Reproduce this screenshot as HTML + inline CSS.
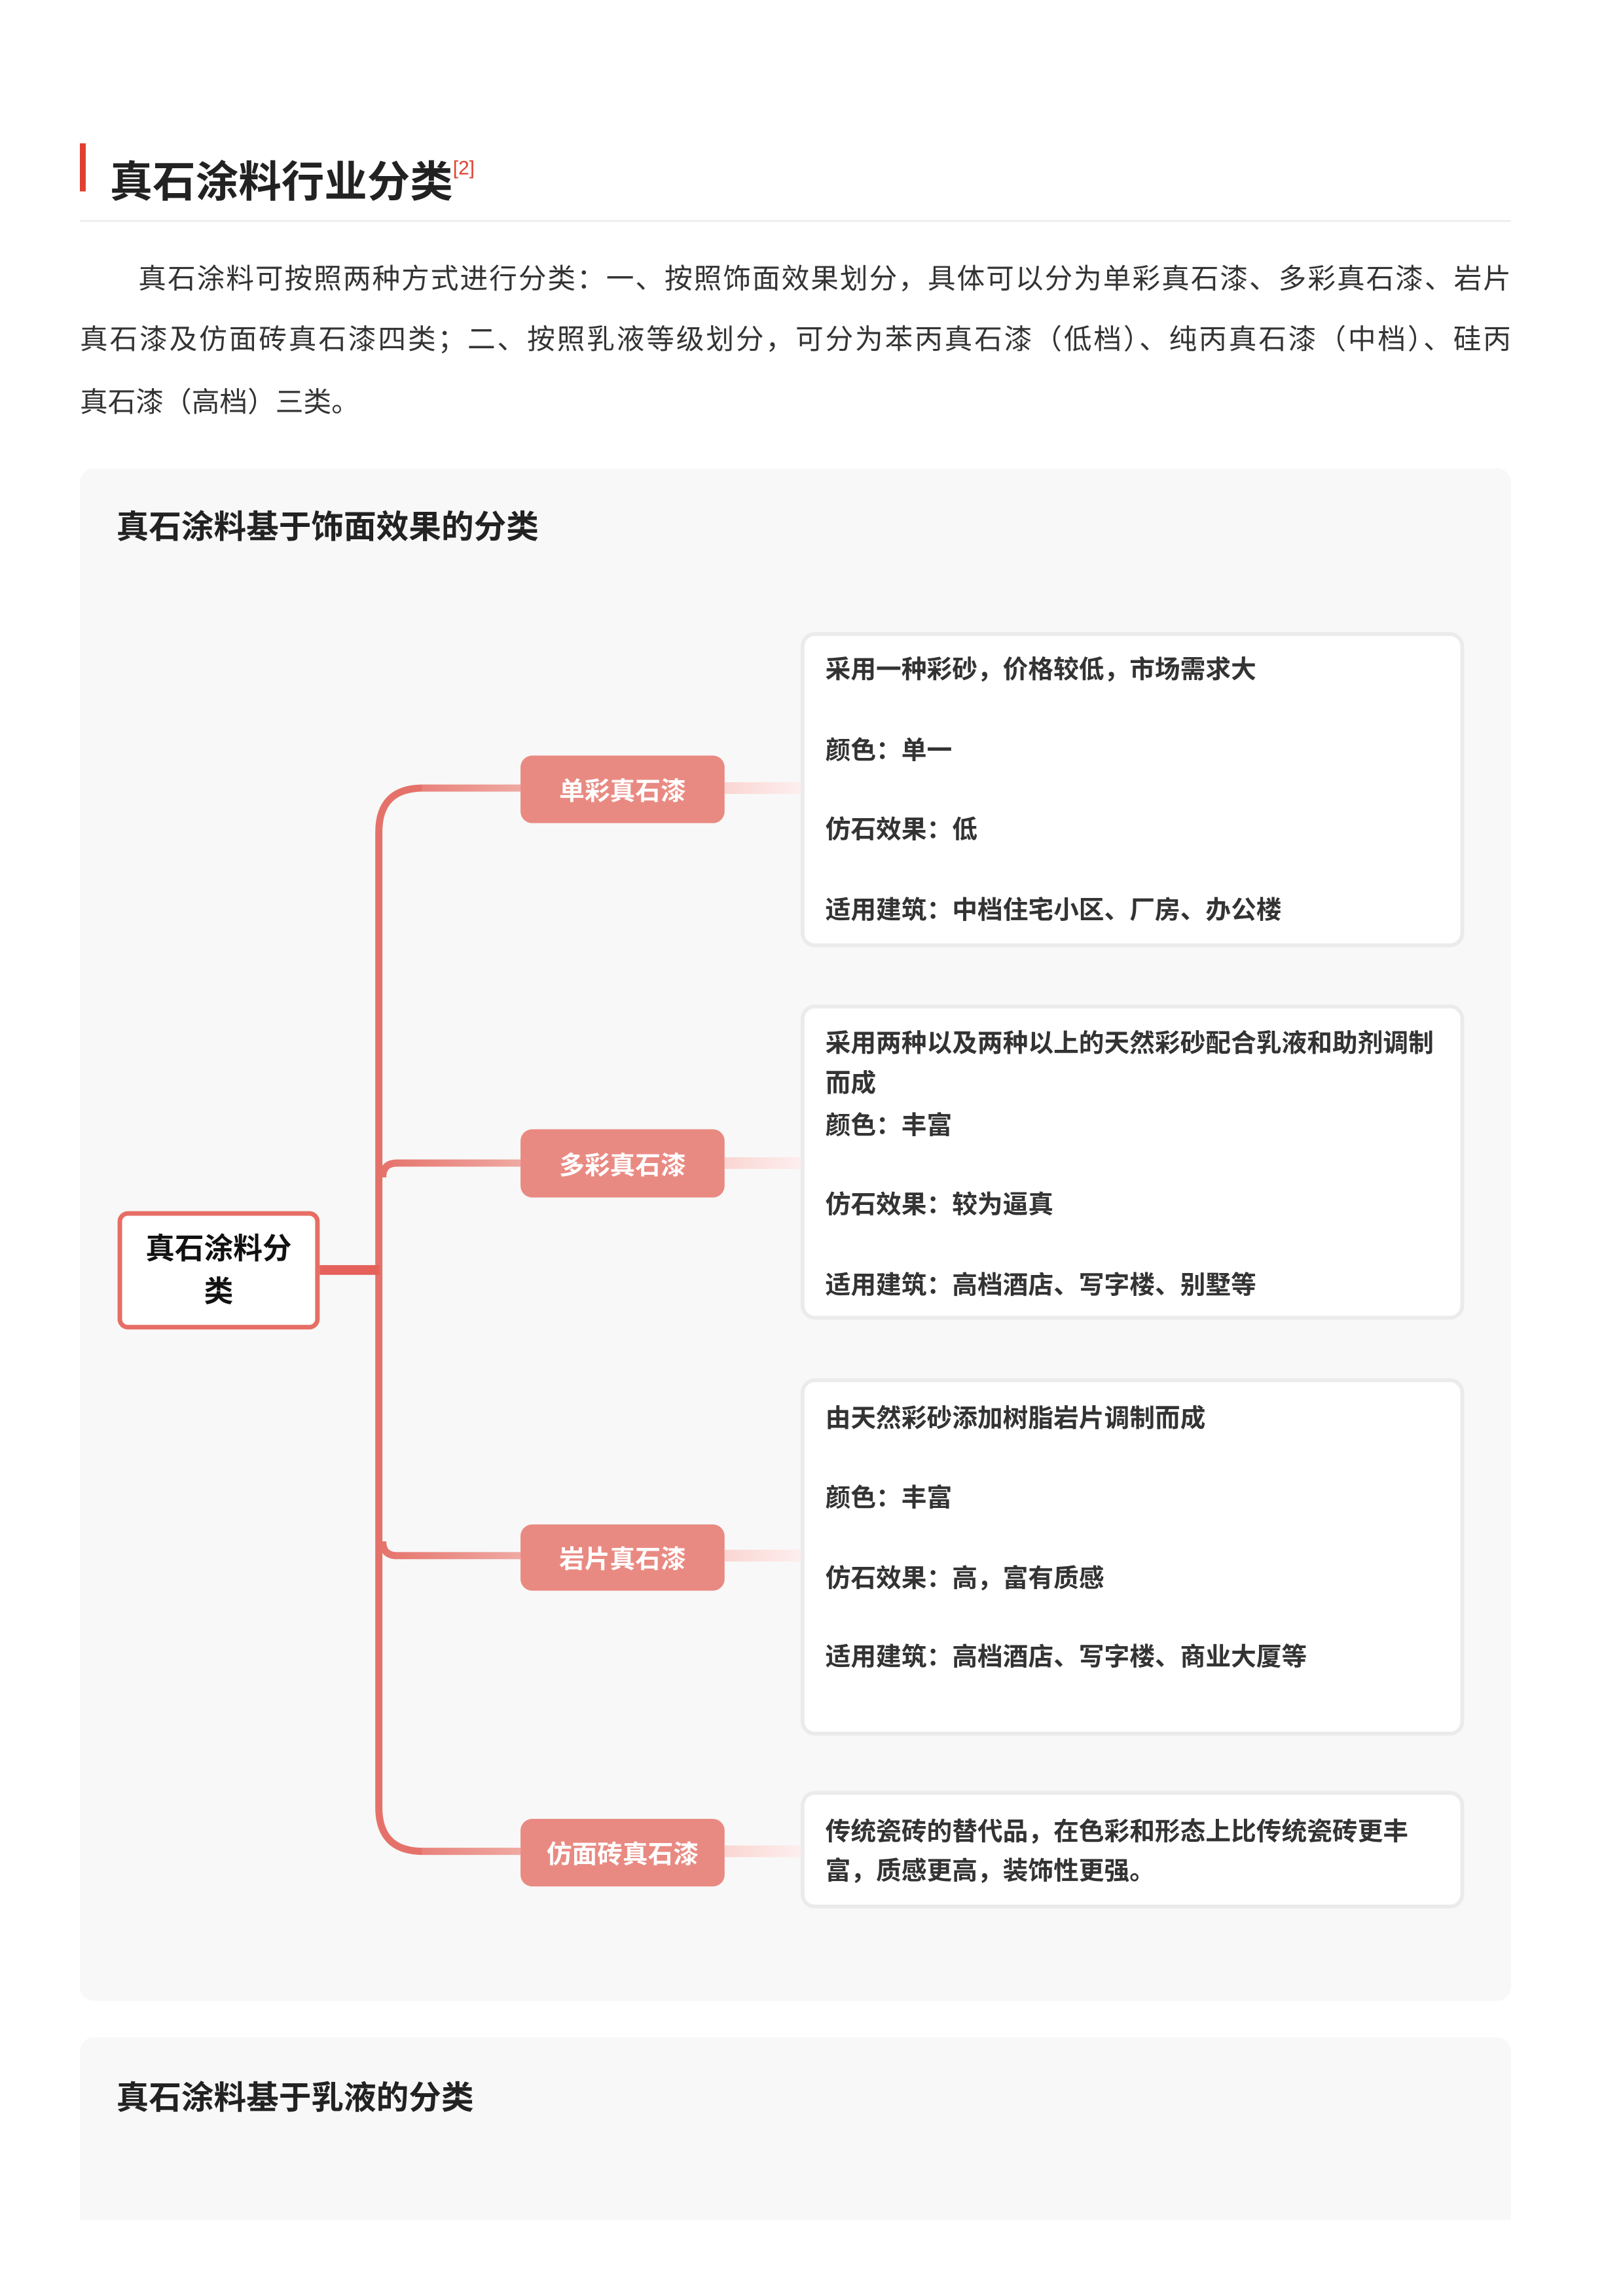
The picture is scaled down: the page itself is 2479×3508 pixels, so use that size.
<!DOCTYPE html>
<html><head><meta charset="utf-8"><style>
*{margin:0;padding:0;box-sizing:border-box}
body{width:2479px;height:3508px;background:#fff;position:relative;overflow:hidden;font-family:"Liberation Sans","Noto Sans CJK SC",sans-serif}
#w{position:absolute;left:0;top:0;width:2479px;height:3508px;transform:scale(0.9927,0.993);transform-origin:122px 219px}
.a{position:absolute;white-space:nowrap}
.p{position:absolute;left:122px;width:2202px;font-size:43px;color:#333;line-height:60px;white-space:nowrap}
.j{text-align:justify;text-align-last:justify}
.panel{position:absolute;left:122px;width:2202px;background:#f8f8f8}
.pt{font-size:50px;font-weight:bold;color:#222;line-height:60px}
.node{position:absolute;left:800px;width:314px;background:#e98a82;border-radius:18px;color:#fff;font-weight:bold;font-size:39px;display:flex;align-items:center;justify-content:center}
.box{position:absolute;left:1231px;width:1021px;background:#fff;border:6px solid #ebebeb;border-radius:22px}
.t{position:absolute;left:1269px;font-size:39px;font-weight:bold;color:#333;line-height:50px;white-space:nowrap}
.fc{position:absolute;left:1114px;width:117px;height:18px;background:linear-gradient(90deg,#fad6d2,#fdeeed)}
</style></head><body><div id="w">
<div class="a" style="left:122px;top:219px;width:9px;height:74px;background:#e0402f"></div>
<div class="a" style="left:168px;top:218px;font-size:66px;font-weight:bold;color:#222;line-height:80px">真石涂料行业分类<sup style="font-size:30px;color:#e0402f;font-weight:normal;vertical-align:34px">[2]</sup></div>
<div class="a" style="left:122px;top:337px;width:2202px;height:3px;background:#eeeeee"></div>
<div class="p j" style="top:398px">　　真石涂料可按照两种方式进行分类：一、按照饰面效果划分，具体可以分为单彩真石漆、多彩真石漆、岩片</div>
<div class="p j" style="top:491px">真石漆及仿面砖真石漆四类；二、按照乳液等级划分，可分为苯丙真石漆（低档）、纯丙真石漆（中档）、硅丙</div>
<div class="p" style="top:588px">真石漆（高档）三类。</div>

<div class="panel" style="top:719px;height:2358px;border-radius:22px"></div>
<div class="a pt" style="left:178px;top:779px">真石涂料基于饰面效果的分类</div>
<div class="panel" style="top:3133px;height:281px;border-radius:22px 22px 0 0"></div>
<div class="a pt" style="left:178px;top:3196px">真石涂料基于乳液的分类</div>

<svg class="a" style="left:0;top:0" width="2479" height="3508">
<defs><linearGradient id="g" gradientUnits="userSpaceOnUse" x1="582" y1="0" x2="800" y2="0"><stop offset="0" stop-color="#e5726a"/><stop offset="1" stop-color="#efa9a2"/></linearGradient></defs>
<path d="M650 1211 Q582 1211 582 1279 V2779 Q582 2847 650 2847" fill="none" stroke="#e5726a" stroke-width="11"/>
<path d="M648 1211 H800 M648 2847 H800" stroke="url(#g)" stroke-width="11"/>
<path d="M588 1810 Q588 1788 610 1788 H800 M588 2370 Q588 2392 610 2392 H800" fill="none" stroke="url(#g)" stroke-width="11"/>
<rect x="491" y="1945" width="92" height="15" fill="#e4625a"/>
</svg>

<div class="a" style="left:180px;top:1862px;width:311px;height:182px;border:7px solid #e66e64;border-radius:16px;background:#fff"></div>
<div class="a" style="left:180px;top:1887px;width:311px;text-align:center;font-size:45px;font-weight:bold;color:#111;line-height:66px;white-space:normal;padding:0 40px">真石涂料分类</div>

<div class="node" style="top:1161px;height:104px">单彩真石漆</div>
<div class="node" style="top:1736px;height:105px">多彩真石漆</div>
<div class="node" style="top:2344px;height:102px">岩片真石漆</div>
<div class="node" style="top:2797px;height:104px">仿面砖真石漆</div>
<div class="fc" style="top:1202px"></div>
<div class="fc" style="top:1779px"></div>
<div class="fc" style="top:2383px"></div>
<div class="fc" style="top:2838px"></div>

<div class="box" style="top:971px;height:485px"></div>
<div class="box" style="top:1544px;height:485px"></div>
<div class="box" style="top:2119px;height:550px"></div>
<div class="box" style="top:2754px;height:181px"></div>

<div class="t" style="top:1005px">采用一种彩砂，价格较低，市场需求大</div>
<div class="t" style="top:1129px">颜色：单一</div>
<div class="t" style="top:1251px">仿石效果：低</div>
<div class="t" style="top:1375px">适用建筑：中档住宅小区、厂房、办公楼</div>

<div class="t" style="top:1580px">采用两种以及两种以上的天然彩砂配合乳液和助剂调制</div>
<div class="t" style="top:1641px">而成</div>
<div class="t" style="top:1706px">颜色：丰富</div>
<div class="t" style="top:1828px">仿石效果：较为逼真</div>
<div class="t" style="top:1952px">适用建筑：高档酒店、写字楼、别墅等</div>

<div class="t" style="top:2157px">由天然彩砂添加树脂岩片调制而成</div>
<div class="t" style="top:2279px">颜色：丰富</div>
<div class="t" style="top:2403px">仿石效果：高，富有质感</div>
<div class="t" style="top:2524px">适用建筑：高档酒店、写字楼、商业大厦等</div>

<div class="t" style="top:2793px">传统瓷砖的替代品，在色彩和形态上比传统瓷砖更丰</div>
<div class="t" style="top:2853px">富，质感更高，装饰性更强。</div>
</div></body></html>
